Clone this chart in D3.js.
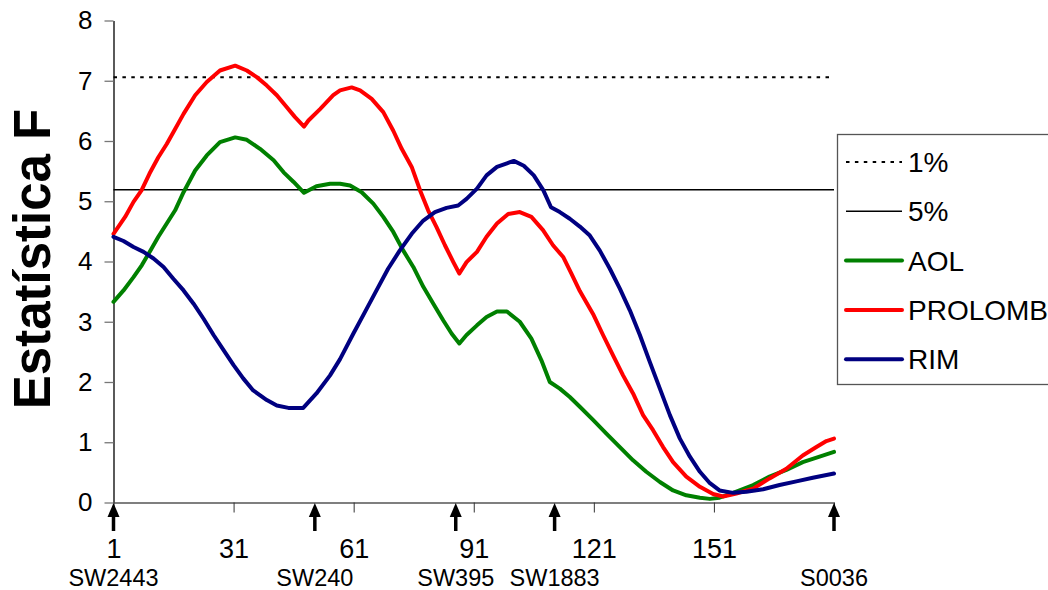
<!DOCTYPE html>
<html>

<head>
    <meta charset="utf-8">
    <script src="https://cdn.jsdelivr.net/npm/d3@7"></script>
    <style>
        body { margin: 0; background: #fff; }
        text { font-family: Arial, "Liberation Sans", sans-serif; fill: #000; }
    </style>
</head>

<body>
    <div id="chart"></div>
    <script>
        // values, [position, F]
        const aol = [[1, 3.33], [3.5, 3.52], [6, 3.74], [8.1, 3.94], [10.2, 4.18], [12.2, 4.41], [14.3, 4.63],
            [16.4, 4.85], [18.5, 5.15], [21.4, 5.51], [24.3, 5.76], [27.6, 5.98], [31.4, 6.06], [34.3, 6.02],
            [37.6, 5.87], [41, 5.68], [43.5, 5.48], [46, 5.32], [48.6, 5.14], [51.7, 5.25], [55.1, 5.29],
            [57.6, 5.29], [60.1, 5.26], [63, 5.15], [65.9, 4.96], [68.4, 4.74], [70.9, 4.49], [73.4, 4.18],
            [75.9, 3.91], [78.4, 3.58], [80.9, 3.30], [83.4, 3.02], [85.5, 2.80], [87.4, 2.64], [89.2, 2.78],
            [91.8, 2.94], [94.2, 3.08], [96.8, 3.17], [99.3, 3.17], [102.5, 3.00], [105.4, 2.72], [107.9, 2.36],
            [110, 2.00], [112.5, 1.89], [115, 1.75], [117.5, 1.59], [120.8, 1.37], [124.2, 1.14], [127.5, 0.92],
            [130.8, 0.70], [134.1, 0.51], [137.5, 0.34], [140.8, 0.20], [144.1, 0.12], [147.5, 0.08], [150, 0.06],
            [152.4, 0.08], [155.8, 0.16], [160.8, 0.29], [164.9, 0.43], [169.1, 0.54], [173.2, 0.67],
            [177.4, 0.76], [181, 0.84]];

        const prolomb = [[1, 4.46], [3.9, 4.74], [6, 4.99], [8, 5.18], [10, 5.46], [12.2, 5.73], [14.3, 5.95],
            [16.4, 6.20], [18.5, 6.45], [21.4, 6.76], [24.3, 6.98], [27.6, 7.17], [31.4, 7.25], [34.3, 7.17],
            [36.8, 7.06], [39.3, 6.92], [41.8, 6.76], [44.3, 6.56], [46.3, 6.40], [48.6, 6.24], [49.7, 6.34],
            [52.6, 6.53], [55.9, 6.76], [57.6, 6.84], [60.5, 6.89], [62.6, 6.84], [65.5, 6.70], [68.4, 6.48],
            [70.9, 6.17], [73, 5.87], [75.5, 5.57], [77.6, 5.18], [79.6, 4.85], [81.7, 4.57], [83.8, 4.27],
            [85.9, 3.99], [87.4, 3.80], [89.2, 3.99], [91.8, 4.16], [94.2, 4.41], [96.8, 4.63], [99.6, 4.79],
            [102.5, 4.82], [105.4, 4.74], [108.3, 4.52], [110.8, 4.27], [113.4, 4.07], [115.4, 3.80],
            [117.5, 3.51], [120.8, 3.13], [123.3, 2.78], [125.8, 2.44], [128.3, 2.11], [130.8, 1.81],
            [133.3, 1.45], [135.8, 1.20], [138.3, 0.92], [140.8, 0.67], [144.1, 0.43], [147.5, 0.26],
            [150.8, 0.14], [153.3, 0.10], [156.6, 0.15], [160.8, 0.23], [164.9, 0.40], [169.1, 0.56],
            [173.2, 0.78], [176.6, 0.92], [179.1, 1.02], [181, 1.06]];

        const rim = [[1, 4.41], [3.5, 4.34], [6, 4.24], [8.5, 4.16], [11, 4.05], [13.5, 3.91], [16, 3.71],
            [18.5, 3.52], [21, 3.30], [23.5, 3.05], [26, 2.78], [28.5, 2.53], [31, 2.28], [33.4, 2.06],
            [35.9, 1.86], [39.3, 1.70], [41.8, 1.61], [44.7, 1.57], [48.4, 1.57], [51.7, 1.81], [55.1, 2.11],
            [57.6, 2.38], [60.9, 2.80], [63.8, 3.16], [66.7, 3.52], [69.6, 3.88], [72.5, 4.18], [75.5, 4.46],
            [78.4, 4.68], [81.3, 4.82], [84.2, 4.89], [87.1, 4.93], [89.2, 5.04], [91.8, 5.21], [94.2, 5.43],
            [96.8, 5.57], [99.3, 5.63], [101, 5.67], [103.5, 5.59], [106, 5.43], [108.4, 5.18], [110.3, 4.90],
            [112.5, 4.82], [115, 4.71], [117.5, 4.58], [120, 4.43], [122.5, 4.18], [125, 3.88], [127.5, 3.55],
            [130, 3.19], [132.5, 2.78], [135, 2.33], [137.5, 1.89], [140, 1.45], [142.5, 1.06], [145, 0.76],
            [147.5, 0.51], [150, 0.32], [152.4, 0.20], [155.8, 0.16], [159.1, 0.18], [163.3, 0.22],
            [167.4, 0.29], [171.6, 0.35], [175.7, 0.41], [181, 0.48]];

        const level1 = 7.06;   // 1%
        const level5 = 5.19;   // 5%

        const yTicks = [0, 1, 2, 3, 4, 5, 6, 7, 8];
        const xTicks = [1, 31, 61, 91, 121, 151, 181];
        const markers = ["SW2443", "SW240", "SW395", "SW1883", "S0036"];
        const markerPos = [1, 51.3, 86.5, 111.2, 181];

        const series = [
            { name: "AOL", values: aol, color: "#008000" },
            { name: "PROLOMB", values: prolomb, color: "#ff0000" },
            { name: "RIM", values: rim, color: "#000080" }
        ];

        const svg = d3.select("#chart").append("svg").attr("width", 1048).attr("height", 590);

        const x = d3.scaleLinear().domain([1, 181]).range([113.5, 834]);
        const y = d3.scaleLinear().domain([0, 8]).range([502.5, 20.5]);

        // y axis
        const yAxis = svg.append("g").attr("transform", "translate(113.5,0)")
            .call(d3.axisLeft(y).tickValues(yTicks).tickSize(9).tickSizeOuter(0).tickPadding(12));
        yAxis.select(".domain").attr("stroke", "#000").attr("stroke-width", 1.3);
        yAxis.selectAll(".tick line").attr("stroke", "#777").attr("stroke-width", 1.3);
        yAxis.selectAll(".tick text").attr("font-size", 26).attr("font-family", "Arial, 'Liberation Sans', sans-serif");

        // x axis
        const xAxis = svg.append("g").attr("transform", "translate(0,502.5)")
            .call(d3.axisBottom(x).tickValues(xTicks).tickSize(10).tickSizeOuter(0).tickPadding(26)
                .tickFormat(d => d === 181 ? "" : d));
        xAxis.select(".domain").attr("stroke", "#555").attr("stroke-width", 1.3);
        xAxis.selectAll(".tick line").attr("stroke", "#333").attr("stroke-width", 1);
        xAxis.selectAll(".tick text").attr("font-size", 27).attr("font-family", "Arial, 'Liberation Sans', sans-serif");

        // threshold lines
        svg.append("line").attr("x1", x(1)).attr("x2", x(181)).attr("y1", y(level1)).attr("y2", y(level1))
            .attr("stroke", "#000").attr("stroke-width", 2).attr("stroke-dasharray", "3.5,5.4");
        svg.append("line").attr("x1", x(1)).attr("x2", x(181)).attr("y1", y(level5)).attr("y2", y(level5))
            .attr("stroke", "#000").attr("stroke-width", 1.6);

        const line = d3.line().x(d => x(d[0])).y(d => y(d[1])).curve(d3.curveLinear);

        svg.selectAll("path.series").data(series).join("path")
            .attr("class", "series")
            .attr("d", d => line(d.values))
            .attr("fill", "none")
            .attr("stroke", d => d.color)
            .attr("stroke-width", 4)
            .attr("stroke-linejoin", "round")
            .attr("stroke-linecap", "round");

        // marker arrows + names
        const mk = svg.selectAll("g.marker").data(markers).join("g")
            .attr("class", "marker")
            .attr("transform", (d, i) => `translate(${x(markerPos[i])},0)`);
        mk.append("path").attr("d", "M0,503 L-6,517 L6,517 Z").attr("fill", "#000");
        mk.append("line").attr("x1", 0).attr("x2", 0).attr("y1", 515).attr("y2", 531)
            .attr("stroke", "#000").attr("stroke-width", 3.5);
        mk.append("text").attr("y", 586).attr("text-anchor", "middle").attr("font-size", 23.5).text(d => d);

        // y title
        svg.append("text")
            .attr("transform", "translate(50,259) rotate(-90)")
            .attr("text-anchor", "middle")
            .attr("font-size", 51)
            .attr("font-weight", "bold")
            .text("Estatística F");

        // legend
        const legendItems = [
            { name: "1%", color: "#000", width: 2, dash: "3.5,5.4" },
            { name: "5%", color: "#000", width: 1.6, dash: null },
            ...series.map(s => ({ name: s.name, color: s.color, width: 4, dash: null }))
        ];
        const lg = svg.append("g");
        lg.append("rect").attr("x", 837.5).attr("y", 134.5).attr("width", 260).attr("height", 250)
            .attr("fill", "#fff").attr("stroke", "#555").attr("stroke-width", 1.3);
        const li = lg.selectAll("g").data(legendItems).join("g")
            .attr("transform", (d, i) => `translate(0,${162 + i * 49.3})`);
        li.append("line").attr("x1", 846).attr("x2", 902).attr("y1", 0).attr("y2", 0)
            .attr("stroke", d => d.color).attr("stroke-width", d => d.width)
            .attr("stroke-dasharray", d => d.dash).attr("stroke-linecap", d => d.width > 3 ? "round" : "butt");
        li.append("text").attr("x", 908).attr("y", 10).attr("font-size", 28).text(d => d.name);
    </script>
</body>

</html>
